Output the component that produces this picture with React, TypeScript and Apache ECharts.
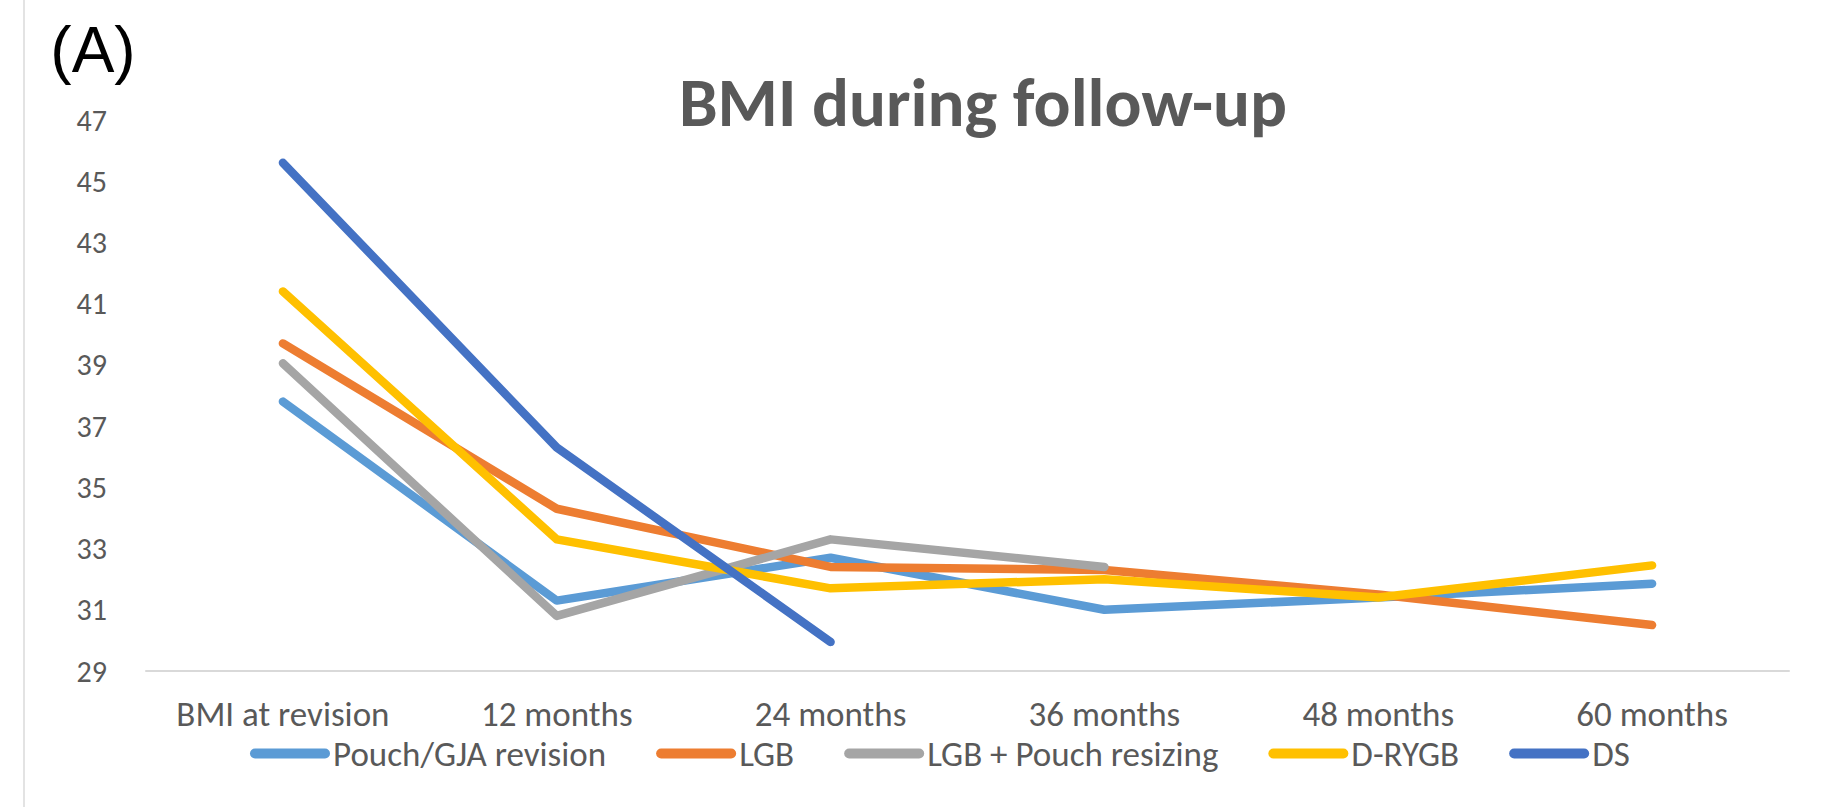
import React, { useEffect, useRef } from "react";
import * as echarts from "echarts";

const categories = ["BMI at revision", "12 months", "24 months", "36 months", "48 months", "60 months"];
const seriesNames = ["Pouch/GJA revision", "LGB", "LGB + Pouch resizing", "D-RYGB", "DS"];
const pouchGja = [37.8, 31.3, 32.7, 31.0, 31.4, 31.85];
const lgb = [39.7, 34.3, 32.4, 32.3, 31.5, 30.5];
const lgbPouch = [39.05, 30.8, 33.3, 32.4, null, null];
const dRygb = [41.4, 33.3, 31.7, 32.0, 31.4, 32.45];
const ds = [45.6, 36.3, 29.95, null, null, null];
const seriesValues = [pouchGja, lgb, lgbPouch, dRygb, ds];
const colors = ["#5B9BD5", "#ED7D31", "#A5A5A5", "#FFC000", "#4472C4"];
const yMin = 29;
const yMax = 47;

const FONT = "Carlito, Calibri, Lato, sans-serif";

export default function App() {
  const ref = useRef<HTMLDivElement>(null);
  useEffect(() => {
    if (!ref.current) return;
    const chart = echarts.init(ref.current, null, { renderer: "svg" });
    chart.setOption({
      animation: false,
      backgroundColor: "#ffffff",
      color: colors,
      grid: { left: 146, right: 41, top: 120, bottom: 136, containLabel: false },
      graphic: [
        {
          type: "line",
          shape: { x1: 24, y1: 0, x2: 24, y2: 807 },
          style: { stroke: "#e3e3e3", lineWidth: 2 },
        },
        {
          type: "text",
          x: 93,
          y: 50,
          style: {
            text: "(A)",
            fill: "#000000",
            fontSize: 64,
            fontFamily: "Liberation Sans, Arial, sans-serif",
            textAlign: "center",
            textVerticalAlign: "middle",
            align: "center",
            verticalAlign: "middle",
          },
        },
        {
          type: "text",
          x: 983,
          y: 102,
          style: {
            text: "BMI during follow-up",
            fill: "#595959",
            fontSize: 69,
            fontWeight: "bold",
            fontFamily: FONT,
            textAlign: "center",
            textVerticalAlign: "middle",
            align: "center",
            verticalAlign: "middle",
          },
        },
      ],
      legend: {
        left: 245,
        top: 731,
        itemWidth: 80,
        itemHeight: 10,
        itemGap: 50,
        icon: "path://M5,0 H75 A5,5 0 0 1 75,10 H5 A5,5 0 0 1 5,0 Z",
        textStyle: { fontSize: 35, color: "#595959", fontFamily: FONT, padding: [0, 0, 0, -2] },
        data: seriesNames,
      },
      xAxis: {
        type: "category",
        data: categories,
        boundaryGap: true,
        axisLine: { lineStyle: { color: "#d9d9d9", width: 2 } },
        axisTick: { show: false },
        axisLabel: { fontSize: 35, color: "#595959", fontFamily: FONT, margin: 25, interval: 0 },
        splitLine: { show: false },
      },
      yAxis: {
        type: "value",
        min: yMin,
        max: yMax,
        interval: 1,
        axisLine: { show: false },
        axisTick: { show: false },
        splitLine: { show: false },
        axisLabel: {
          fontSize: 30,
          color: "#595959",
          fontFamily: FONT,
          margin: 39,
          formatter: (v: number) => (Math.round(v) % 2 === 1 ? String(v) : ""),
        },
      },
      series: seriesNames.map((name, i) => ({
        name,
        type: "line",
        data: seriesValues[i],
        symbol: "none",
        showSymbol: false,
        connectNulls: false,
        lineStyle: { width: 8.5, color: colors[i], cap: "round", join: "round" },
        itemStyle: { color: colors[i] },
        z: 2 + i,
      })),
    });
    return () => chart.dispose();
  }, []);
  return (
    <div
      ref={ref}
      style={{ position: "fixed", left: 0, top: 0, width: 1830, height: 807, background: "#fff" }}
    />
  );
}
